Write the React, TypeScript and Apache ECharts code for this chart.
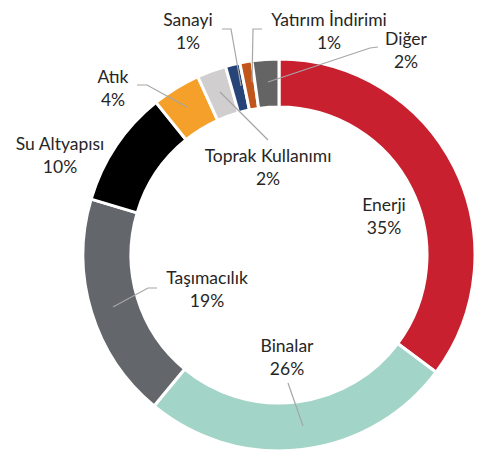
import React, { useEffect, useRef } from "react";
import * as echarts from "echarts";

const categories = [
  "Enerji",
  "Binalar",
  "Taşımacılık",
  "Su Altyapısı",
  "Atık",
  "Toprak Kullanımı",
  "Sanayi",
  "Yatırım İndirimi",
  "Diğer",
];
const values = [35.2, 25.8, 18.6, 9.6, 4.0, 2.4, 1.2, 1.0, 2.2];
const colors = [
  "#C8202F",
  "#A2D5C8",
  "#63666A",
  "#000000",
  "#F5A02A",
  "#D0CECE",
  "#264478",
  "#C0561B",
  "#646464",
];

// label placement (pixels) and leader lines, per slice
const labelCenters: [number, number][] = [
  [384, 216],
  [287, 357],
  [207, 289],
  [60, 155],
  [113, 88],
  [268, 167],
  [188, 31],
  [329, 31],
  [406, 50],
];
const leaderLines: ([number, number][] | null)[] = [
  null,
  [[288, 383], [303, 426]],
  [[157, 288], [148, 288], [113, 307]],
  null,
  [[137, 85], [147, 85], [187, 107]],
  [[268, 140], [220, 92]],
  [[222, 29], [231, 29], [241, 86]],
  [[262, 29], [253, 29], [252, 82]],
  [[378, 47], [370, 48], [268, 82]],
];

export default function App() {
  const ref = useRef<HTMLDivElement>(null);
  useEffect(() => {
    if (!ref.current) return;
    const chart = echarts.init(ref.current, undefined, { renderer: "svg" });
    chart.setOption({
      animation: false,
      backgroundColor: "#ffffff",
      graphic: leaderLines
        .filter((p) => p !== null)
        .map((pts) => ({
          type: "polyline",
          silent: true,
          z: 100,
          shape: { points: pts },
          style: { stroke: "#A6A6A6", lineWidth: 1.2, fill: null },
        })),
      series: [
        {
          type: "pie",
          center: [279, 255],
          radius: [148, 196],
          startAngle: 90,
          clockwise: true,
          avoidLabelOverlap: false,
          itemStyle: { borderColor: "#ffffff", borderWidth: 3 },
          label: {
            show: true,
            position: "outside",
            formatter: (p: any) => `${p.name}\n${Math.round(p.percent)}%`,
            fontFamily: "Lato",
            fontSize: 17.5,
            lineHeight: 23,
            color: "#262626",
          },
          labelLine: { show: false },
          labelLayout: (params: any) => {
            const c = labelCenters[params.dataIndex];
            return {
              x: c[0],
              y: c[1],
              align: "center",
              verticalAlign: "middle",
            };
          },
          data: categories.map((name, i) => ({
            name,
            value: values[i],
            itemStyle: { color: colors[i] },
          })),
        },
      ],
    });
    return () => chart.dispose();
  }, []);
  return (
    <div
      ref={ref}
      style={{ position: "absolute", left: 0, top: 0, width: 480, height: 450 }}
    />
  );
}
